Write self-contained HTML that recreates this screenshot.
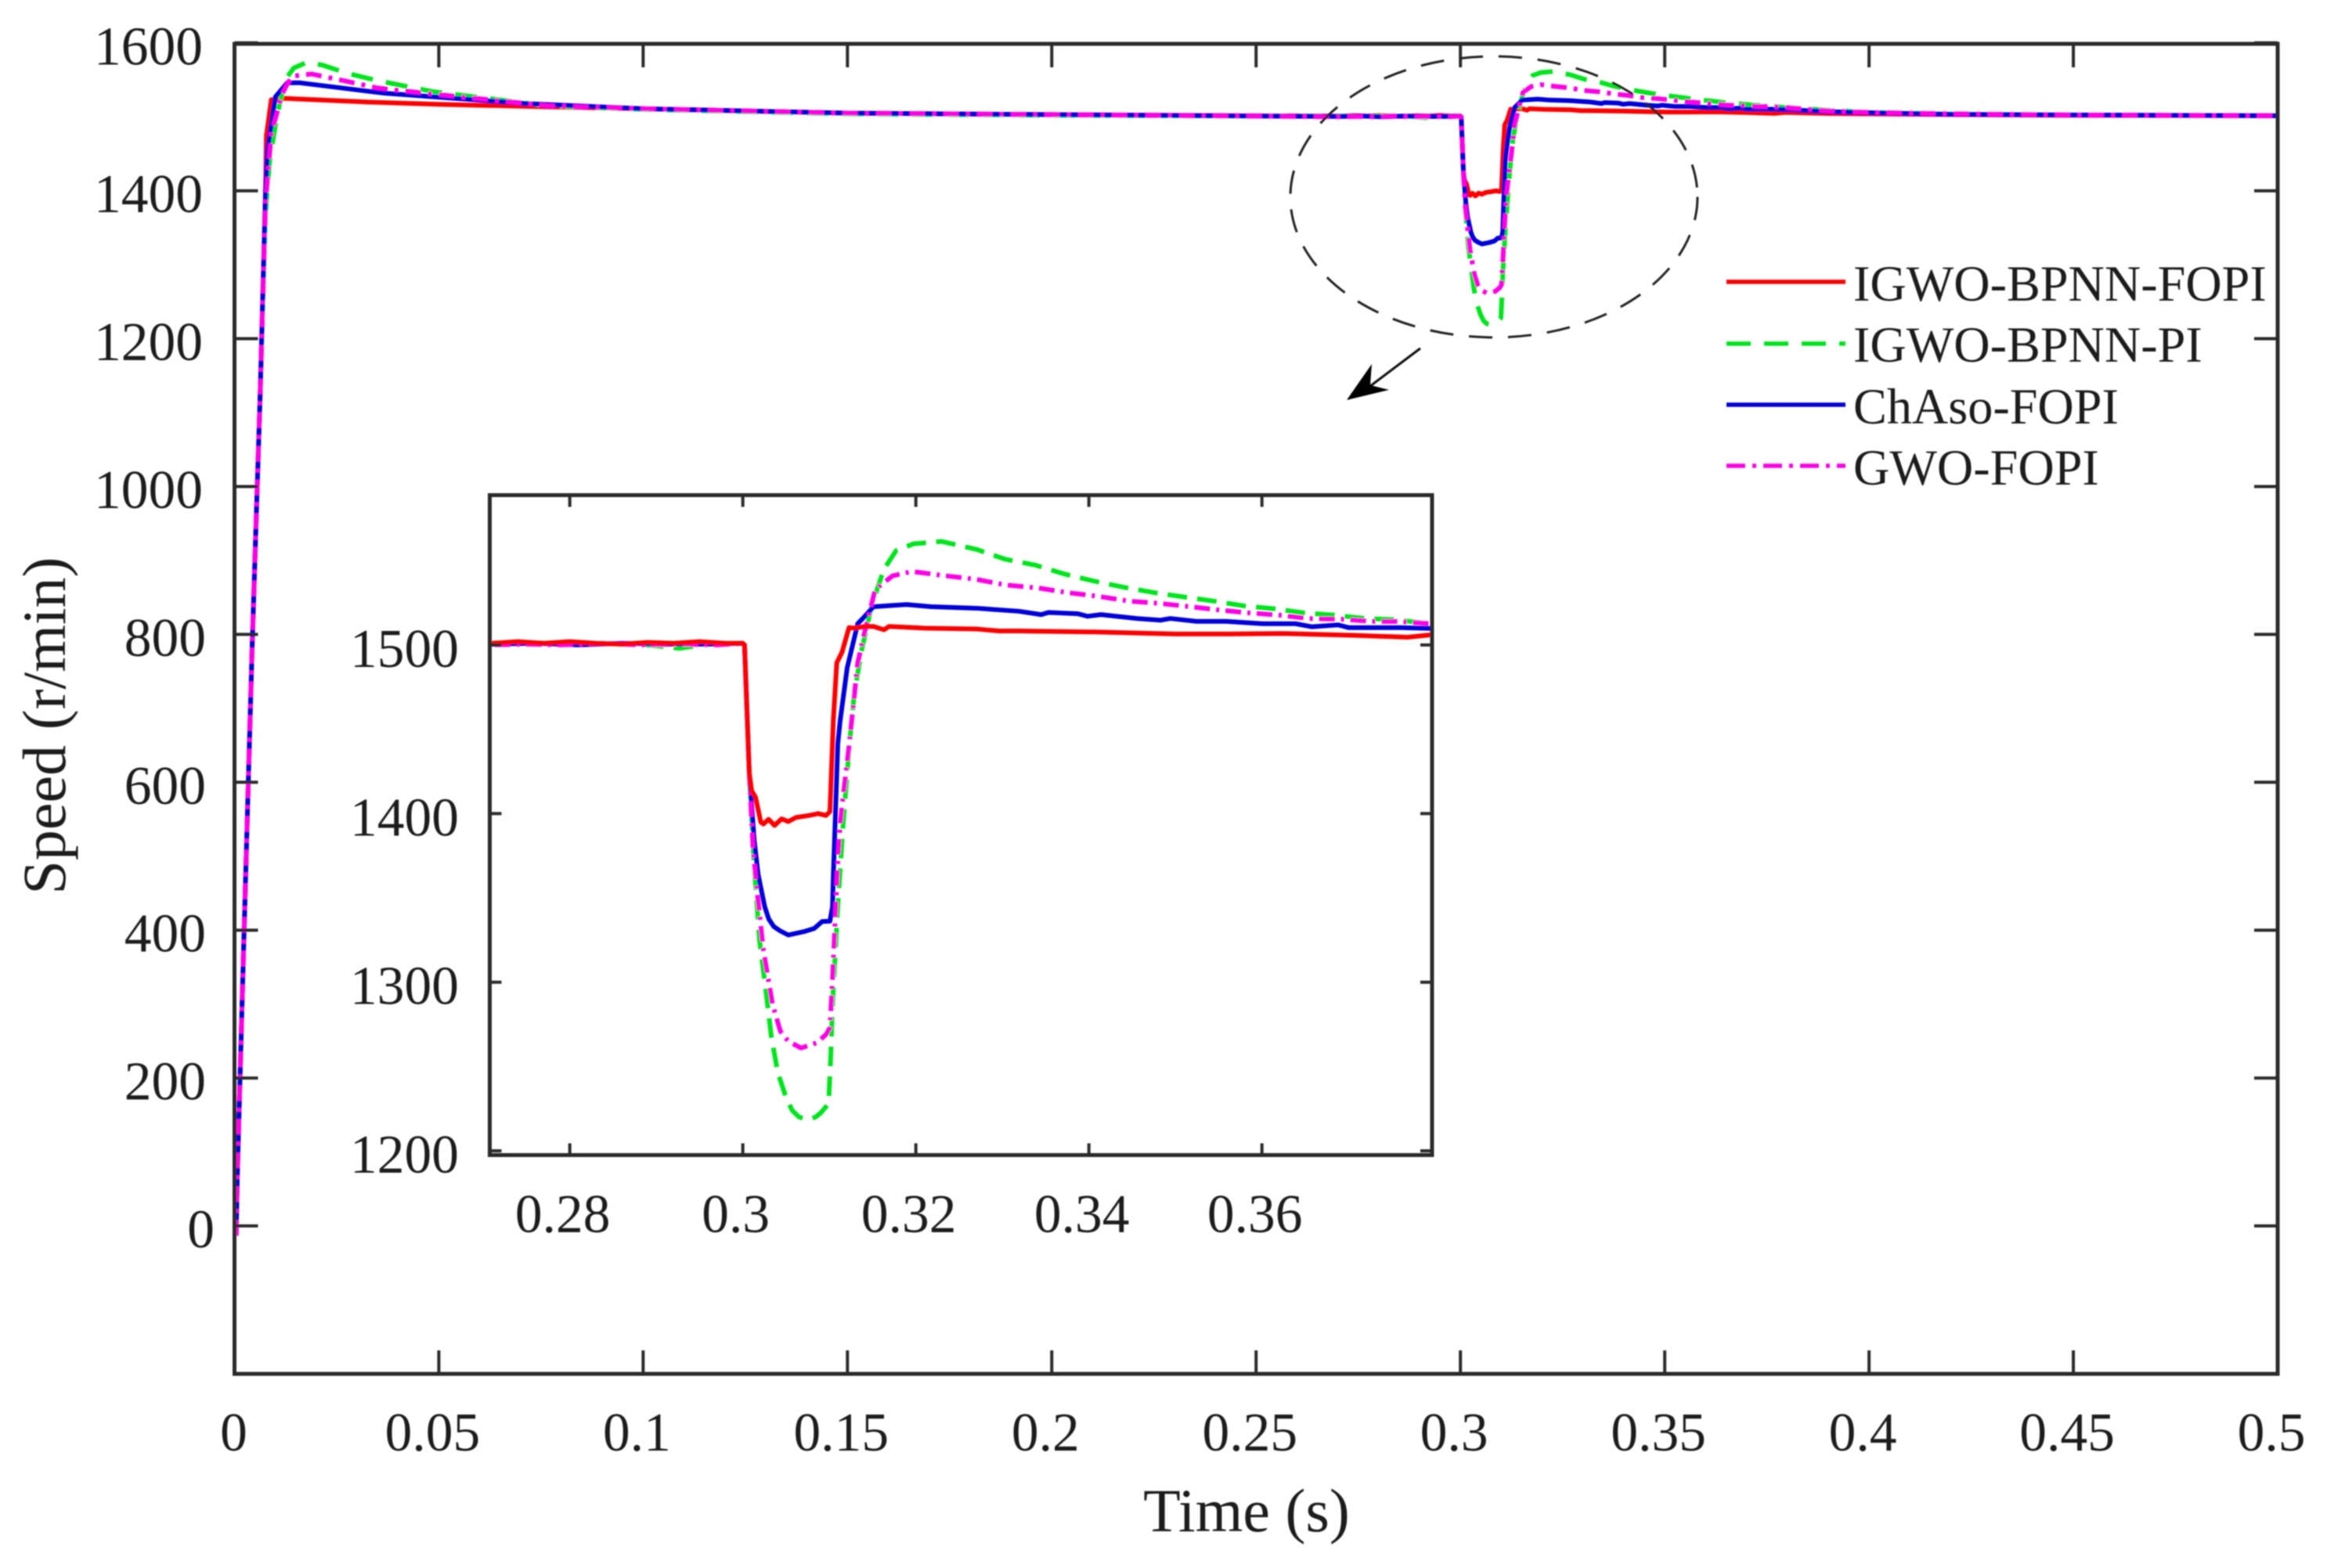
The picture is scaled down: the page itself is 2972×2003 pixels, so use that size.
<!DOCTYPE html>
<html lang="en">
<head>
<meta charset="utf-8">
<title>Speed response comparison</title>
<style>
  html, body { margin: 0; padding: 0; width: 2972px; height: 2003px; overflow: hidden; background: #ffffff; }
  svg { display: block; position: absolute; left: 0; top: 0; }
  text { font-family: "Liberation Serif", serif; fill: #1c1c1c; }
</style>
</head>
<body>
<svg id="chart" xmlns="http://www.w3.org/2000/svg" width="2972" height="2003" viewBox="0 0 2972 2003">
  <defs>
    <clipPath id="mainClip"><rect x="299" y="55" width="2610" height="1700"/></clipPath>
    <clipPath id="insetClip"><rect x="625" y="632" width="1204" height="843"/></clipPath>
    <filter id="soften" filterUnits="userSpaceOnUse" x="0" y="0" width="2972" height="1990">
      <feGaussianBlur stdDeviation="0.7"/>
    </filter>
  </defs>
  <g filter="url(#soften)">
  <g id="mainSeries" clip-path="url(#mainClip)"></g>
  <g id="mainAxes"></g>
  <g id="insetSeries" clip-path="url(#insetClip)"></g>
  <g id="insetAxes"></g>

  <text x="1592" y="1956" font-size="78" text-anchor="middle">Time (s)</text>
  <text transform="translate(83 927) rotate(-90)" font-size="78" text-anchor="middle">Speed (r/min)</text>

  <ellipse cx="1908" cy="251.5" rx="260" ry="179.5" fill="none" stroke="#222222" stroke-width="3" stroke-dasharray="30 20"/>
  <line x1="1814" y1="445" x2="1745" y2="497" stroke="#111111" stroke-width="3"/>
  <polygon points="1720,511 1752,465 1750,492 1774,498" fill="#000000"/>

  <g>
    <g>
      <line x1="2205" y1="360" x2="2357" y2="360" stroke="#ff0000" stroke-width="5.5"/>
      <text x="2367" y="384" font-size="64.2">IGWO-BPNN-FOPI</text>
    </g>
    <g>
      <line x1="2205" y1="439" x2="2357" y2="439" stroke="#00e61e" stroke-width="5.5" stroke-dasharray="31 17"/>
      <text x="2367" y="462" font-size="64.2">IGWO-BPNN-PI</text>
    </g>
    <g>
      <line x1="2205" y1="517" x2="2357" y2="517" stroke="#0000dc" stroke-width="5.5"/>
      <text x="2367" y="541" font-size="64.2">ChAso-FOPI</text>
    </g>
    <g>
      <line x1="2205" y1="595" x2="2357" y2="595" stroke="#ff00e6" stroke-width="5.5" stroke-dasharray="24 9 5 9"/>
      <text x="2367" y="619" font-size="64.2">GWO-FOPI</text>
    </g>
  </g>
  </g>
</svg>

<script>
// ----- Tick data -----
const mainXTicks = [0, 0.05, 0.1, 0.15, 0.2, 0.25, 0.3, 0.35, 0.4, 0.45, 0.5];
const mainXLabels = ['0', '0.05', '0.1', '0.15', '0.2', '0.25', '0.3', '0.35', '0.4', '0.45', '0.5'];
const mainYTicks = [0, 200, 400, 600, 800, 1000, 1200, 1400, 1600];
const mainYLabels = ['0', '200', '400', '600', '800', '1000', '1200', '1400', '1600'];
const insetXTicks = [0.28, 0.3, 0.32, 0.34, 0.36];
const insetXLabels = ['0.28', '0.3', '0.32', '0.34', '0.36'];
const insetYTicks = [1200, 1300, 1400, 1500];
const insetYLabels = ['1200', '1300', '1400', '1500'];

// ----- Series data (time in s, speed in r/min) -----
const redTime = [0.0004,0.0007,0.002,0.0043,0.0063,0.0076,0.0078,0.009,0.0122,0.0327,0.05,0.0767,0.1,0.15,0.2,0.25,0.271,0.274,0.277,0.28,0.283,0.286,0.289,0.292,0.295,0.298,0.3,0.3002,0.30075,0.30102,0.30147,0.30208,0.30238,0.30298,0.30367,0.30449,0.30525,0.30615,0.30766,0.30872,0.30962,0.31007,0.31046,0.31086,0.31146,0.31228,0.3129,0.3141,0.3151,0.31632,0.3169,0.32092,0.327,0.3296,0.3318,0.34066,0.34998,0.35622,0.36235,0.37071,0.37683,0.3795,0.39,0.4,0.42,0.45,0.5];
const redSpeed = [-13,69,330,780,1128,1400,1474,1523,1525,1520,1517,1513.5,1511,1505,1503,1501.5,1501,1502,1501,1502,1501,1500.5,1501.5,1501,1502,1501,1501,1500,1424,1413.6,1409.7,1395,1393.8,1396.6,1393,1396.9,1395.3,1397.7,1398.9,1400,1398.9,1401.2,1455,1489.4,1495.6,1510.3,1510,1511,1511,1509,1511,1510,1509.5,1508.3,1508.3,1507.7,1506.5,1506.5,1506.8,1505.7,1504.6,1506,1504.5,1504,1503,1502,1501.5];

const greenTime = [0.0004,0.0007,0.002,0.0043,0.0063,0.0076,0.0086,0.0097,0.0104,0.0125,0.0145,0.0177,0.0215,0.0275,0.035,0.0487,0.0767,0.1,0.15,0.2,0.25,0.271,0.28,0.288,0.2927,0.296,0.3,0.3002,0.30075,0.30132,0.30193,0.30268,0.30329,0.30404,0.30494,0.3057,0.3065,0.30751,0.3084,0.30901,0.30992,0.31016,0.31037,0.31098,0.31159,0.31233,0.31288,0.31369,0.31491,0.31632,0.31773,0.31975,0.32298,0.327,0.3303,0.33378,0.33722,0.34066,0.34428,0.34769,0.3511,0.35473,0.35816,0.36157,0.365,0.36845,0.3719,0.37535,0.3795,0.39,0.4,0.42,0.45,0.5];
const greenSpeed = [-13,69,330,780,1128,1370,1440,1478,1502,1551,1566,1573.7,1570,1559,1549,1534,1515,1510,1504,1502,1501,1501,1501,1500.5,1498,1500.5,1501,1500,1424,1368.7,1325,1294.4,1268,1246.5,1232.5,1224,1220,1218.7,1220,1222.5,1228,1255.7,1286.8,1345.5,1393.5,1441.5,1470.8,1495.8,1523.6,1545,1556,1560,1561.4,1556.7,1550.9,1547.4,1542,1537.8,1534,1530.9,1528.4,1525.8,1523,1521.4,1518.9,1517.7,1515.7,1515,1512.6,1509,1506,1504,1502.5,1501.5];

const blueTime = [0.0004,0.0007,0.002,0.0043,0.0063,0.0076,0.0081,0.01,0.0129,0.016,0.0327,0.0367,0.071,0.1,0.15,0.2,0.25,0.271,0.276,0.281,0.286,0.291,0.296,0.3,0.3002,0.30075,0.30132,0.30177,0.30253,0.303,0.30358,0.3043,0.30525,0.30706,0.30826,0.30917,0.31007,0.31037,0.31046,0.31098,0.31125,0.31207,0.31328,0.3141,0.3151,0.31894,0.32175,0.327,0.3319,0.3345,0.33532,0.33874,0.33985,0.34139,0.3456,0.34827,0.3494,0.35243,0.35587,0.36008,0.36388,0.36579,0.36881,0.37,0.37605,0.3795,0.39,0.4,0.42,0.45,0.5];
const blueSpeed = [-13,69,330,780,1128,1400,1456,1527,1546,1546,1534.6,1532,1518,1511,1505,1503,1501,1500.5,1501,1500,1501,1500.5,1500.5,1501,1500,1424,1384,1364,1344.8,1337.5,1333,1330.5,1328,1330,1331.9,1336,1336.2,1345,1362.5,1441.5,1455,1486.6,1512.6,1517,1522.7,1524,1522.7,1521.8,1520,1518,1519.3,1518.5,1517,1518,1515.7,1514.7,1515.7,1514,1514,1512.6,1512.6,1510.8,1511.9,1510.3,1510.3,1509.8,1507,1505.5,1503.5,1502.5,1501.5];

const magentaTime = [0.0004,0.0007,0.002,0.0043,0.0063,0.0076,0.009,0.0116,0.0129,0.0141,0.0188,0.0275,0.035,0.05,0.0767,0.1,0.15,0.2,0.25,0.271,0.275,0.279,0.284,0.288,0.293,0.297,0.3,0.3002,0.30075,0.30118,0.30163,0.30238,0.30344,0.30434,0.30525,0.30672,0.30853,0.30962,0.31007,0.31037,0.31098,0.31125,0.31159,0.31228,0.31328,0.3141,0.31531,0.31731,0.31955,0.32298,0.3269,0.33033,0.33414,0.33759,0.34102,0.34464,0.34808,0.3517,0.35511,0.35854,0.36197,0.3654,0.36921,0.37261,0.37605,0.3795,0.39,0.4,0.42,0.45,0.5];
const magentaSpeed = [-13,69,330,780,1128,1385,1477,1530,1544,1555,1558,1548,1539,1530,1515,1511,1505,1503,1501,1500,1500.5,1500,1501,1500,1500.5,1500,1501,1500,1424,1379.6,1354.8,1319,1286.8,1271,1265,1261,1264,1269,1273,1302,1372,1393.5,1410,1440,1489.4,1508,1533,1541,1543.6,1541.3,1539,1535.6,1533.8,1531,1528.9,1526,1524.7,1522.7,1520.7,1519,1517.7,1515.7,1515.3,1514,1513.9,1512.6,1508,1506,1504,1502.5,1501.5];

// ----- Axis functions -----
function mainX(t) { return 299.5 + 5219 * t; }
function mainY(v) { return 1566 - 0.9445 * v; }
function insetX(t) { return 948.7 + 11050 * (t - 0.3); }
function insetY(v) { return 1039.3 + 2.154 * (1400 - v); }

const SVG_NS = 'http://www.w3.org/2000/svg';
const AXIS_COLOR = '#2c2c2c';

function pathFrom(times, speeds, xFn, yFn) {
  let d = '';
  for (let i = 0; i < times.length; i++) {
    d += (i === 0 ? 'M' : 'L') + xFn(times[i]).toFixed(2) + ' ' + yFn(speeds[i]).toFixed(2);
  }
  return d;
}

function drawSeries(parent, name, times, speeds, xFn, yFn, color, dash) {
  const el = document.createElementNS(SVG_NS, 'path');
  
  
  el.setAttribute('d', pathFrom(times, speeds, xFn, yFn));
  el.setAttribute('fill', 'none');
  el.setAttribute('stroke', color);
  el.setAttribute('stroke-width', '6');
  el.setAttribute('stroke-linejoin', 'round');
  if (dash) { el.setAttribute('stroke-dasharray', dash); }
  parent.appendChild(el);
}

function drawLine(parent, name, x1, y1, x2, y2, width) {
  const el = document.createElementNS(SVG_NS, 'line');
  
  
  el.setAttribute('x1', x1);
  el.setAttribute('y1', y1);
  el.setAttribute('x2', x2);
  el.setAttribute('y2', y2);
  el.setAttribute('stroke', AXIS_COLOR);
  el.setAttribute('stroke-width', width);
  parent.appendChild(el);
}

function drawLabel(parent, name, x, y, anchor, content) {
  const el = document.createElementNS(SVG_NS, 'text');
  
  
  el.setAttribute('x', x);
  el.setAttribute('y', y);
  el.setAttribute('font-size', '69.5');
  el.setAttribute('text-anchor', anchor);
  el.textContent = content;
  parent.appendChild(el);
}

function drawBox(parent, name, left, top, right, bottom) {
  const el = document.createElementNS(SVG_NS, 'rect');
  
  
  el.setAttribute('x', left);
  el.setAttribute('y', top);
  el.setAttribute('width', right - left);
  el.setAttribute('height', bottom - top);
  el.setAttribute('fill', 'none');
  el.setAttribute('stroke', AXIS_COLOR);
  el.setAttribute('stroke-width', '5');
  parent.appendChild(el);
}

// ----- Main plot -----
const mainSeries = document.getElementById('mainSeries');
const mainAxes = document.getElementById('mainAxes');
drawSeries(mainSeries, 'series-igwo-bpnn-fopi', redTime, redSpeed, mainX, mainY, '#ff0000', null);
drawSeries(mainSeries, 'series-igwo-bpnn-pi', greenTime, greenSpeed, mainX, mainY, '#00e61e', '28 17');
drawSeries(mainSeries, 'series-chaso-fopi', blueTime, blueSpeed, mainX, mainY, '#0000dc', null);
drawSeries(mainSeries, 'series-gwo-fopi', magentaTime, magentaSpeed, mainX, mainY, '#ff00e6', '20 9 5 9');

const MAIN_LEFT = mainX(0), MAIN_RIGHT = mainX(0.5), MAIN_TOP = 56, MAIN_BOTTOM = 1755;
drawBox(mainAxes, 'main-plot-frame', MAIN_LEFT, MAIN_TOP, MAIN_RIGHT, MAIN_BOTTOM);

mainXTicks.forEach(function (t, i) {
  const x = mainX(t);
  drawLine(mainAxes, 'x-tick-bottom', x, MAIN_BOTTOM, x, MAIN_BOTTOM - 30, 4);
  drawLine(mainAxes, 'x-tick-top', x, MAIN_TOP, x, MAIN_TOP + 30, 4);
  const labelShift = t === 0 ? -1 : -8;
  drawLabel(mainAxes, 'x-tick-label', x + labelShift, 1853, 'middle', mainXLabels[i]);
});

mainYTicks.forEach(function (v, i) {
  const y = mainY(v);
  drawLine(mainAxes, 'y-tick-left', MAIN_LEFT, y, MAIN_LEFT + 30, y, 4);
  drawLine(mainAxes, 'y-tick-right', MAIN_RIGHT, y, MAIN_RIGHT - 30, y, 4);
  const labelEnd = v >= 1000 ? 259 : (v >= 200 ? 263 : 274);
  drawLabel(mainAxes, 'y-tick-label', labelEnd, y + 27.5, 'end', mainYLabels[i]);
});

// ----- Inset plot -----
const insetSeries = document.getElementById('insetSeries');
const insetAxes = document.getElementById('insetAxes');
drawSeries(insetSeries, 'inset-series-igwo-bpnn-pi', greenTime, greenSpeed, insetX, insetY, '#00e61e', '25 13');
drawSeries(insetSeries, 'inset-series-chaso-fopi', blueTime, blueSpeed, insetX, insetY, '#0000dc', null);
drawSeries(insetSeries, 'inset-series-gwo-fopi', magentaTime, magentaSpeed, insetX, insetY, '#ff00e6', '20 8 4 8');
drawSeries(insetSeries, 'inset-series-igwo-bpnn-fopi', redTime, redSpeed, insetX, insetY, '#ff0000', null);

const INSET_LEFT = 625.5, INSET_RIGHT = 1829, INSET_TOP = 632.5, INSET_BOTTOM = 1475.5;
drawBox(insetAxes, 'inset-plot-frame', INSET_LEFT, INSET_TOP, INSET_RIGHT, INSET_BOTTOM);

insetXTicks.forEach(function (t, i) {
  const x = insetX(t);
  drawLine(insetAxes, 'inset-x-tick-bottom', x, INSET_BOTTOM, x, INSET_BOTTOM - 15, 4);
  drawLine(insetAxes, 'inset-x-tick-top', x, INSET_TOP, x, INSET_TOP + 15, 4);
  drawLabel(insetAxes, 'inset-x-tick-label', x - 9, 1574, 'middle', insetXLabels[i]);
});

insetYTicks.forEach(function (v, i) {
  const y = insetY(v);
  drawLine(insetAxes, 'inset-y-tick-left', INSET_LEFT, y, INSET_LEFT + 15, y, 4);
  drawLine(insetAxes, 'inset-y-tick-right', INSET_RIGHT, y, INSET_RIGHT - 15, y, 4);
  drawLabel(insetAxes, 'inset-y-tick-label', 586, y + 28, 'end', insetYLabels[i]);
});
</script>
</body>
</html>
